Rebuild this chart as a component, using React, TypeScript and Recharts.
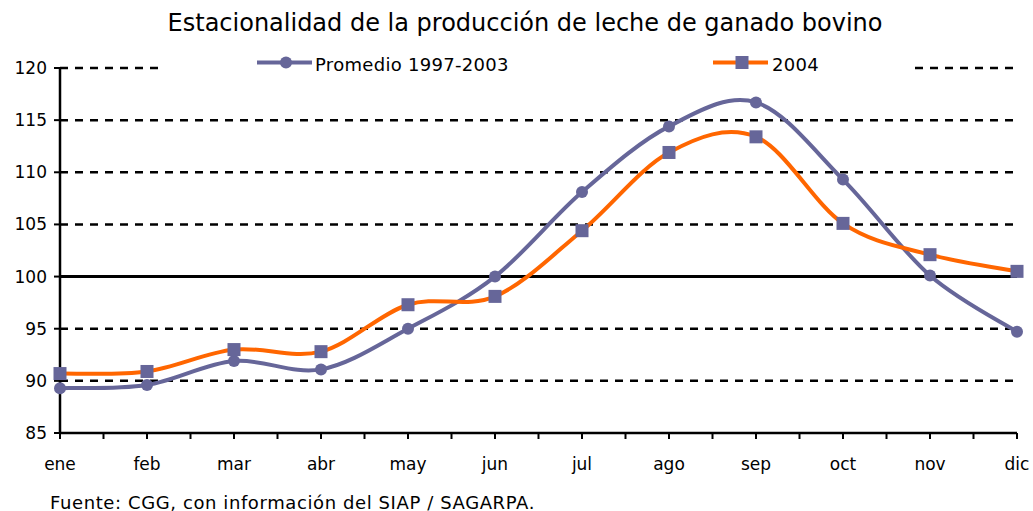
import React from 'react';
import { LineChart, Line, XAxis, YAxis, CartesianGrid, ReferenceLine } from 'recharts';

const months = ['ene', 'feb', 'mar', 'abr', 'may', 'jun', 'jul', 'ago', 'sep', 'oct', 'nov', 'dic'];
const promedio = [89.3, 89.6, 91.9, 91.1, 95.0, 100.0, 108.1, 114.4, 116.7, 109.3, 100.1, 94.7];
const y2004 = [90.7, 90.9, 93.0, 92.8, 97.3, 98.1, 104.4, 111.9, 113.4, 105.1, 102.1, 100.5];
const yTicks = [85, 90, 95, 100, 105, 110, 115, 120];
const xTicks = Array.from({ length: 23 }, (_, i) => i / 2);

const data = months.map((m, i) => ({ idx: i, month: m, promedio: promedio[i], y2004: y2004[i] }));

const PURPLE = '#666699';
const ORANGE = '#FF6600';
const FONT = '"DejaVu Sans", Verdana, sans-serif';

// Excel-like smoothed curve (Catmull-Rom style Bezier)
const excelCurve = (context: any) => {
  let pts: number[][] = [];
  return {
    areaStart() {},
    areaEnd() {},
    lineStart() { pts = []; },
    point(x: number, y: number) { pts.push([+x, +y]); },
    lineEnd() {
      const n = pts.length;
      if (!n) return;
      context.moveTo(pts[0][0], pts[0][1]);
      for (let i = 0; i < n - 1; i++) {
        const p0 = pts[i - 1] || pts[i];
        const p1 = pts[i];
        const p2 = pts[i + 1];
        const p3 = pts[i + 2] || pts[i + 1];
        const c1x = p1[0] + (p2[0] - p0[0]) / 6;
        const c1y = p1[1] + (p2[1] - p0[1]) / 6;
        const c2x = p2[0] - (p3[0] - p1[0]) / 6;
        const c2y = p2[1] - (p3[1] - p1[1]) / 6;
        context.bezierCurveTo(c1x, c1y, c2x, c2y, p2[0], p2[1]);
      }
    },
  };
};

const SquareDot = (props: any) => {
  const { cx, cy, index } = props;
  if (cx == null || cy == null) return <g key={`s${index}`} />;
  return <rect key={`s${index}`} x={cx - 6.5} y={cy - 6.5} width={13} height={13} fill={PURPLE} />;
};

const CircleDot = (props: any) => {
  const { cx, cy, index } = props;
  if (cx == null || cy == null) return <g key={`c${index}`} />;
  return <circle key={`c${index}`} cx={cx} cy={cy} r={6} fill={PURPLE} />;
};

export default function App() {
  return (
    <div style={{ position: 'absolute', left: 0, top: 0, width: 1033, height: 511, background: '#fff' }}>
      <div style={{ position: 'absolute', left: 0, top: 9, width: 1050, textAlign: 'center', fontFamily: FONT, fontSize: 24, color: '#000', whiteSpace: 'nowrap' }}>
        Estacionalidad de la producción de leche de ganado bovino
      </div>
      <LineChart
        width={1033}
        height={511}
        data={data}
        margin={{ top: 68, right: 16, bottom: 48, left: 0 }}
      >
        <CartesianGrid vertical={false} stroke="#000" strokeWidth={2.5} strokeDasharray="8 7" horizontalValues={yTicks.slice(1)} />
        <ReferenceLine y={100} stroke="#000" strokeWidth={3} />
        <XAxis
          dataKey="idx"
          type="number"
          domain={[0, 11]}
          ticks={xTicks}
          interval={0}
          tickFormatter={(v: number) => (Number.isInteger(v) ? months[v] : '')}
          axisLine={{ stroke: '#000', strokeWidth: 2.5 }}
          tickLine={{ stroke: '#000', strokeWidth: 2 }}
          tickSize={6}
          tickMargin={19}
          height={30}
          tick={{ fill: '#000', fontSize: 17, fontFamily: FONT }}
        />
        <YAxis
          type="number"
          domain={[85, 120]}
          ticks={yTicks}
          interval={0}
          width={60}
          axisLine={{ stroke: '#000', strokeWidth: 2.5 }}
          tickLine={{ stroke: '#000', strokeWidth: 2 }}
          tickSize={6}
          tickMargin={7}
          tick={{ fill: '#000', fontSize: 17, fontFamily: FONT }}
        />
        <Line
          type={excelCurve as any}
          dataKey="promedio"
          name="Promedio 1997-2003"
          stroke={PURPLE}
          strokeWidth={4}
          dot={CircleDot}
          activeDot={false}
          isAnimationActive={false}
        />
        <Line
          type={excelCurve as any}
          dataKey="y2004"
          name="2004"
          stroke={ORANGE}
          strokeWidth={4}
          dot={SquareDot}
          activeDot={false}
          isAnimationActive={false}
        />
      </LineChart>
      <svg width={1033} height={26} style={{ position: 'absolute', left: 0, top: 50, display: 'block' }}>
        <rect x={160} y={0} width={755} height={26} fill="#fff" />
        <g fontFamily={FONT} fontSize={18} fill="#000" letterSpacing={0.3}>
          <line x1={257} y1={12.5} x2={312} y2={12.5} stroke={PURPLE} strokeWidth={4} />
          <circle cx={286} cy={12.5} r={6} fill={PURPLE} />
          <text x={315} y={20.5}>Promedio 1997-2003</text>
          <line x1={713} y1={12.5} x2={768} y2={12.5} stroke={ORANGE} strokeWidth={4} />
          <rect x={735.5} y={6} width={13} height={13} fill={PURPLE} />
          <text x={772} y={20.5}>2004</text>
        </g>
      </svg>
      <div style={{ position: 'absolute', left: 50, top: 492, fontFamily: FONT, fontSize: 18, letterSpacing: 0.6, color: '#000', whiteSpace: 'nowrap' }}>
        Fuente: CGG, con información del SIAP / SAGARPA.
      </div>
    </div>
  );
}
